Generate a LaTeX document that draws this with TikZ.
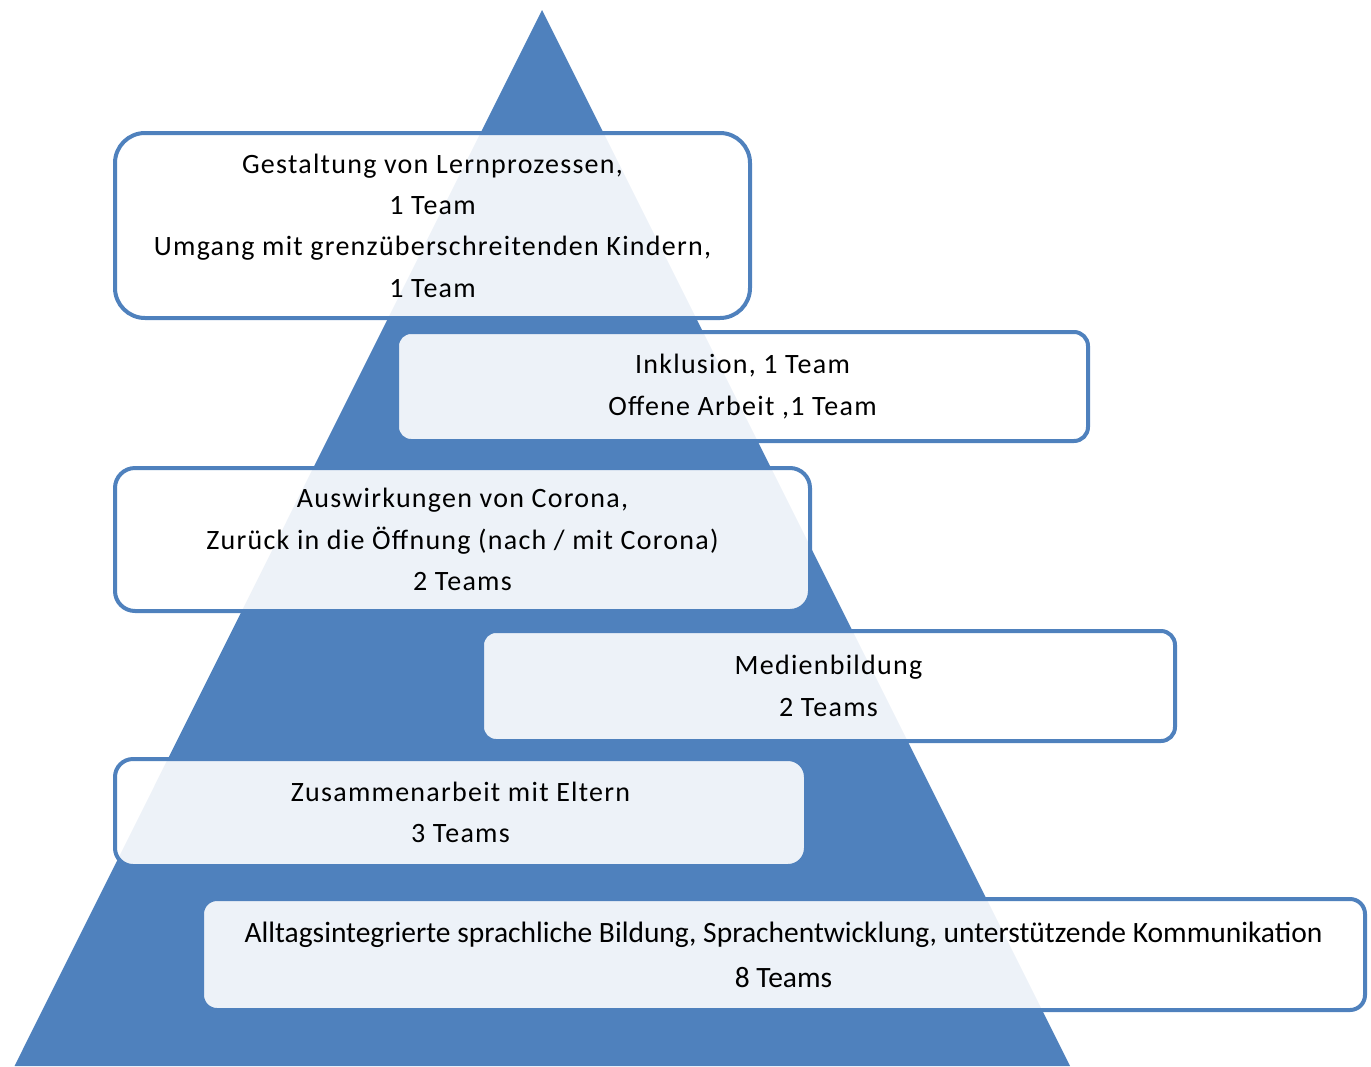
\documentclass[tikz,border=0pt]{standalone}
\usepackage{fontspec}
\setmainfont{Carlito}
\newfontfamily\condfont[LetterSpace=4.5]{Carlito}
\definecolor{pblue}{HTML}{4F81BD}
\begin{document}
\begin{tikzpicture}[x=1pt,y=-1pt,
  box/.style={draw=pblue, line width=4pt, fill=white, fill opacity=0.9, text opacity=1,
    align=center, inner sep=0pt},
  condtxt/.style={font=\condfont\fontsize{28}{41.3}\selectfont},
  plaintxt/.style={font=\fontsize{29.5}{45}\selectfont}]
\useasboundingbox (0,0) rectangle (1371,1066);
\fill[pblue] (542,10) -- (1070,1066) -- (14.5,1066) -- cycle;
\node[box, condtxt, rounded corners=30pt, minimum width=635pt, minimum height=185pt] (b1) at (432.5,225.5)
  {Gestaltung von Lernprozessen,\\1 Team\\Umgang mit grenzüberschreitenden Kindern,\\1 Team};
\node[box, condtxt, rounded corners=14pt, minimum width=691pt, minimum height=109pt] (b2) at (742.5,386.5)
  {Inklusion, 1 Team\\Offene Arbeit ,1 Team};
\node[box, condtxt, rounded corners=20pt, minimum width=695pt, minimum height=143pt] (b3) at (462.5,539.5)
  {Auswirkungen von Corona,\\Zurück in die Öffnung (nach / mit Corona)\\2 Teams};
\node[box, condtxt, rounded corners=14pt, minimum width=693pt, minimum height=110pt] (b4) at (828.5,686)
  {Medienbildung\\2 Teams};
\node[box, condtxt, rounded corners=18pt, minimum width=691pt, minimum height=107pt] (b5) at (460.5,812.5)
  {Zusammenarbeit mit Eltern\\3 Teams};
\node[box, plaintxt, rounded corners=15pt, minimum width=1163pt, minimum height=111pt] (b6) at (783.5,954.5)
  {Alltagsintegrierte sprachliche Bildung, Sprachentwicklung, unterstützende Kommunikation\\8 Teams};
\end{tikzpicture}
\end{document}
